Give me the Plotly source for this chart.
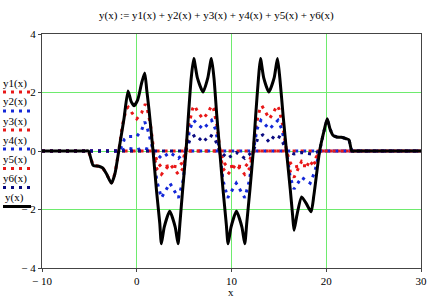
import plotly.graph_objects as go

# x sample points and values
x_y1 = [-10, -1.9, -1.5, -1.1, -0.9, -0.5, 0, 0.5, 0.9, 1.1, 1.45, 1.8, 2.2, 2.6, 3.5, 4.4, 4.8,
        5.15, 5.5, 5.9, 6.1, 6.5, 7.0, 7.5, 7.9, 8.1, 8.45, 8.8, 9.2, 9.6, 10.5, 11.4, 11.8,
        12.3, 12.6, 13.0, 13.2, 13.6, 14.0, 14.4, 14.8, 15.0, 15.4, 15.8, 16.2, 16.6, 17.4,
        18.2, 18.7, 19.3, 30]
y1 = [0, 0, 0.9, 1.45, 1.5, 1.3, 1.1, 1.3, 1.6, 1.45, 0.9, 0, -0.4, -0.55, -0.5, -0.55, -0.4,
      0, 0.9, 1.45, 1.55, 1.3, 1.1, 1.3, 1.55, 1.45, 0.9, 0, -0.4, -0.55, -0.5, -0.55, -0.4,
      0, 0.9, 1.45, 1.55, 1.3, 1.1, 1.3, 1.55, 1.45, 0.9, 0, -0.4, -0.55, -0.5,
      -0.5, -0.35, 0, 0]

x_y2 = [-10, -1.8, -1.3, -0.9, 0, 0.5, 0.84, 1.1, 1.75, 2.1, 2.6, 3.5, 4.4, 4.9, 5.2, 5.6, 6.0,
        7.0, 7.9, 8.3, 8.75, 9.1, 9.6, 10.5, 11.4, 11.9, 12.3, 12.7, 13.1, 14.0, 14.9, 15.3,
        15.8, 16.2, 16.6, 17.4, 18.3, 18.8, 19.3, 30]
y2 = [0, 0, 0.4, 0.5, 0.5, 0.7, 1.0, 0.8, 0, -1.0, -1.6, -1.1, -1.6, -1.0, 0, 0.75, 1.05,
      0.75, 1.05, 0.75, 0, -1.0, -1.6, -1.1, -1.6, -1.0, 0, 0.75, 1.05, 0.75, 1.05, 0.75,
      0, -0.9, -1.3, -0.9, -1.1, -0.7, 0, 0]

x_y3 = [-10, 1.75, 2.1, 2.6, 3.5, 4.4, 4.9, 5.2, 8.75, 9.1, 9.6, 10.5, 11.4, 11.9, 12.3,
        15.8, 16.2, 16.6, 17.4, 18.3, 18.8, 19.3, 30]
y3 = [0, 0, -0.6, -0.8, -0.45, -0.8, -0.6, 0, 0, -0.6, -0.8, -0.45, -0.8, -0.6, 0,
      0, -0.7, -0.9, -0.35, -0.5, -0.4, 0, 0]

x_y4 = [-10, -1.8, -1.0, 0, 0.8, 1.75, 2.6, 3.5, 4.4, 5.15, 30]
y4 = [0, 0, 0.1, 0.05, 0.1, 0, -0.25, -0.05, -0.25, 0, 0]

x_y5 = [-10, -5.1, -4.6, -4.0, -3.6, -3.2, -2.67, -2.3, -1.9, 30]
y5 = [0, 0, -0.49, -0.52, -0.58, -0.78, -1.1, -0.77, 0, 0]

x_y6 = [-10, 5.15, 5.7, 6.2, 7.0, 7.7, 8.2, 8.75, 9.6, 10.5, 11.4, 12.3, 12.8, 13.3, 14.0,
        14.6, 15.2, 15.8, 16.6, 17.4, 18.4, 19.3, 19.7, 20.1, 20.4, 20.7, 21.1, 21.6, 22.1,
        22.4, 22.7, 30]
y6 = [0, 0, 0.45, 0.55, 0.3, 0.55, 0.45, 0, -0.25, -0.05, -0.25, 0, 0.45, 0.55, 0.3,
      0.55, 0.45, 0, -0.1, -0.05, -0.1, 0, 0.6, 1.1, 0.75, 0.54, 0.48, 0.47, 0.42,
      0.38, 0, 0]

x_y = [-10, -5.5, -5.1, -4.6, -4.0, -3.6, -3.2, -2.67, -2.3, -1.9, -1.6, -1.34, -0.92, -0.6,
       -0.28, 0.1, 0.5, 0.84, 1.05, 1.3, 1.72, 2.08, 2.43, 2.6, 2.9, 3.48, 4.06, 4.36, 4.55,
       4.85, 5.2, 5.45, 5.75, 6.02, 6.4, 7.0, 7.5, 7.88, 8.15, 8.45, 8.76, 9.1, 9.45, 9.64,
       9.95, 10.52, 11.1, 11.4, 11.6, 11.95, 12.3, 12.55, 12.85, 13.06, 13.4, 13.94, 14.5,
       14.85, 15.1, 15.45, 15.8, 16.2, 16.45, 16.6, 16.9, 17.4, 17.9, 18.4, 18.7, 19.3, 19.7,
       20.1, 20.4, 20.7, 21.1, 21.6, 22.1, 22.4, 22.7, 23.1, 30]
y = [0, 0, 0, -0.49, -0.52, -0.58, -0.78, -1.1, -0.77, 0, 0.6, 1.12, 2.05, 1.7,
     1.55, 1.75, 2.3, 2.67, 2.1, 1.39, 0, -1.34, -2.47, -3.17, -2.6, -2.06, -2.6, -3.17, -2.5,
     -1.3, 0, 1.2, 2.5, 3.16, 2.5, 2.02, 2.5, 3.16, 2.5, 1.2, 0, -1.3, -2.5, -3.17,
     -2.6, -2.06, -2.6, -3.17, -2.5, -1.3, 0, 1.2, 2.5, 3.16, 2.5, 2.02, 2.5,
     3.16, 2.5, 1.2, 0, -1.3, -2.2, -2.71, -2.2, -1.57, -1.8, -2.08, -1.5, 0, 0.6,
     1.1, 0.75, 0.54, 0.48, 0.47, 0.42, 0.38, 0, 0, 0]

x_ticks = [-10, 0, 10, 20, 30]
x_tick_labels = ["\u2212 10", "0", "10", "20", "30"]
y_ticks = [-4, -2, 0, 2, 4]
y_tick_labels = ["\u2212 4", "\u2212 2", "0", "2", "4"]

series = [
    ("y1(x)", x_y1, y1, "#e81818"),
    ("y2(x)", x_y2, y2, "#1428d8"),
    ("y3(x)", x_y3, y3, "#e81818"),
    ("y4(x)", x_y4, y4, "#1428d8"),
    ("y5(x)", x_y5, y5, "#e81818"),
    ("y6(x)", x_y6, y6, "#0a0a80"),
]

FONT = "Liberation Serif"
GREEN = "rgb(110,235,110)"

fig = go.Figure()
for name, xs, ys, color in series:
    fig.add_trace(go.Scatter(x=xs, y=ys, mode="lines", name=name,
                             line=dict(color=color, width=3, dash="3px,5px")))
fig.add_trace(go.Scatter(x=x_y, y=y, mode="lines", name="y(x)",
                         line=dict(color="black", width=3, shape="spline", smoothing=0.6)))

# hand-drawn legend on the left, text above the line sample
W, H, L, R, T, B = 441, 303, 42, 20, 34, 35
pw = W - L - R
ph = H - T - B


def px_x(px):
    return (px - L) / pw


def px_y(py):
    return (H - B - py) / ph


def label(text, x, y_):
    return dict(text=text, x=px_x(x), y=px_y(y_), xref="paper", yref="paper",
                xanchor="center", yanchor="middle", showarrow=False,
                font=dict(family=FONT, size=11, color="black"))


text_rows = [83, 102, 121, 140, 159.5, 178.5, 197.5]
line_rows = [92, 111, 130, 149, 168.5, 187.5, 206.5]
legend = [(n, c, True) for n, _, _, c in series] + [("y(x)", "black", False)]
annotations = []
shapes = []
for (name, color, dotted), ty, ly in zip(legend, text_rows, line_rows):
    annotations.append(label(name, 15, ty))
    shapes.append(dict(type="line", xref="paper", yref="paper",
                       x0=px_x(3), x1=px_x(31), y0=px_y(ly), y1=px_y(ly),
                       line=dict(color=color, width=3, dash="3px,5px" if dotted else "solid")))

annotations.append(label("y(x) := y1(x) + y2(x) + y3(x) + y4(x) + y5(x) + y6(x)", 216, 15))
annotations.append(label("x", 231, 292))

axis_common = dict(showline=True, mirror=True, linecolor="#444444", linewidth=1,
                   showgrid=True, gridcolor=GREEN, gridwidth=1, zeroline=False,
                   ticks="outside", ticklen=3, tickcolor="#444444", automargin=False,
                   tickfont=dict(family=FONT, size=11, color="black"))

fig.update_layout(
    width=W, height=H,
    margin=dict(l=L, r=R, t=T, b=B, autoexpand=False),
    paper_bgcolor="white", plot_bgcolor="white",
    showlegend=False,
    annotations=annotations,
    shapes=shapes,
    xaxis=dict(range=[-10, 30], tickvals=x_ticks, ticktext=x_tick_labels, **axis_common),
    yaxis=dict(range=[-4, 4], tickvals=y_ticks, ticktext=y_tick_labels, **axis_common),
)

fig.write_html("out.html", config={"displayModeBar": False},
               post_script="document.body.style.margin = '0';")
